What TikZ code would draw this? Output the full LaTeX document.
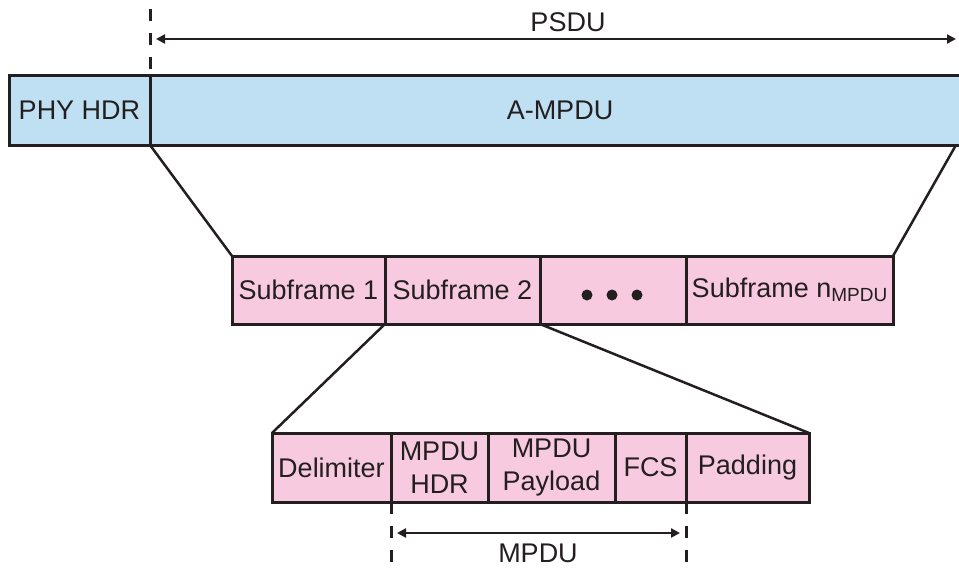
\documentclass[tikz,border=0pt]{standalone}
\usepackage{fontspec}
\setmainfont{Liberation Sans}
\usetikzlibrary{arrows.meta}
\definecolor{hdrblue}{HTML}{BEE0F2}
\definecolor{framepink}{HTML}{F8CADF}
\definecolor{ink}{HTML}{231F20}

\begin{document}
\begin{tikzpicture}[x=1pt,y=-1pt,
  field/.style={draw=ink, line width=3pt, rectangle, inner sep=0pt, outer sep=0pt,
    anchor=north west, align=center, text=ink, font=\fontsize{27}{33}\selectfont},
  bluefield/.style={field, fill=hdrblue, minimum height=70pt},
  pinkfield/.style={field, fill=framepink},
  link/.style={draw=ink, line width=2.5pt},
  guide/.style={draw=ink, line width=3pt, dash pattern=on 12pt off 12pt},
  span/.style={draw=ink, line width=2.5pt,
    {Triangle[length=9pt,width=9pt]}-{Triangle[length=9pt,width=9pt]}},
  caption/.style={text=ink, font=\fontsize{27}{33}\selectfont, inner sep=0pt},
  dot/.style={circle, fill=ink, inner sep=0pt, minimum size=11pt}
]
\clip (0,0) rectangle (959,568);

% guide marking the start of the PSDU
\coordinate (psdutop) at (150,9);
\coordinate (psdufoot) at (150,72);
\draw[guide] (psdutop) -- (psdufoot);

% PHY frame
\node[bluefield, minimum width=141pt] (phy) at (9,75) {PHY HDR};
\node[bluefield, minimum width=820pt] (ampdu) at (150,75) {A-MPDU};

% PSDU span
\coordinate (psduL) at (156,39);
\coordinate (psduR) at (956,39);
\draw[span] (psduL) -- (psduR);
\node[caption] (psdu) at (568,22) {PSDU};

% A-MPDU subframes
\node[pinkfield, minimum width=153pt, minimum height=68pt] (sf1) at (232,256) {Subframe 1};
\node[pinkfield, minimum width=155pt, minimum height=68pt] (sf2) at (385,256) {Subframe 2};
\node[pinkfield, minimum width=146pt, minimum height=68pt] (sfdots) at (540,256) {};
\node[pinkfield, minimum width=207pt, minimum height=68pt] (sfn) at (686,256)
  {Subframe n\raisebox{-0.3ex}{\fontsize{19}{19}\selectfont MPDU}};
\node[dot] (dot1) at (587,295) {};
\node[dot] (dot2) at (612,295) {};
\node[dot] (dot3) at (637,295) {};

% expansion of the A-MPDU
\draw[link] (phy.south east) -- (sf1.north west);
\draw[link] (ampdu.south east -| psduR) -- (sfn.north east);

% subframe fields
\node[pinkfield, minimum width=119pt, minimum height=69pt] (delim) at (272,433) {Delimiter};
\node[pinkfield, minimum width=97pt, minimum height=69pt] (mhdr) at (391,433) {MPDU\\HDR};
\node[pinkfield, minimum width=127pt, minimum height=69pt] (payload) at (488,433) {MPDU\\Payload};
\node[pinkfield, minimum width=71pt, minimum height=69pt] (fcs) at (615,433) {FCS};
\node[pinkfield, minimum width=123pt, minimum height=69pt] (pad) at (686,433) {Padding};

% expansion of subframe 2
\draw[link] (sf2.south west) -- (delim.north west);
\draw[link] (sf2.south east) -- (pad.north east);

% MPDU span
\coordinate (mpduLfoot) at (391,568);
\coordinate (mpduRfoot) at (686,568);
\draw[guide] (mhdr.south west) -- (mpduLfoot);
\draw[guide] (fcs.south east) -- (mpduRfoot);
\coordinate (mpduL) at (397,533);
\coordinate (mpduR) at (680,533);
\draw[span] (mpduL) -- (mpduR);
\node[caption] (mpdu) at (538,553) {MPDU};
\end{tikzpicture}
\end{document}
